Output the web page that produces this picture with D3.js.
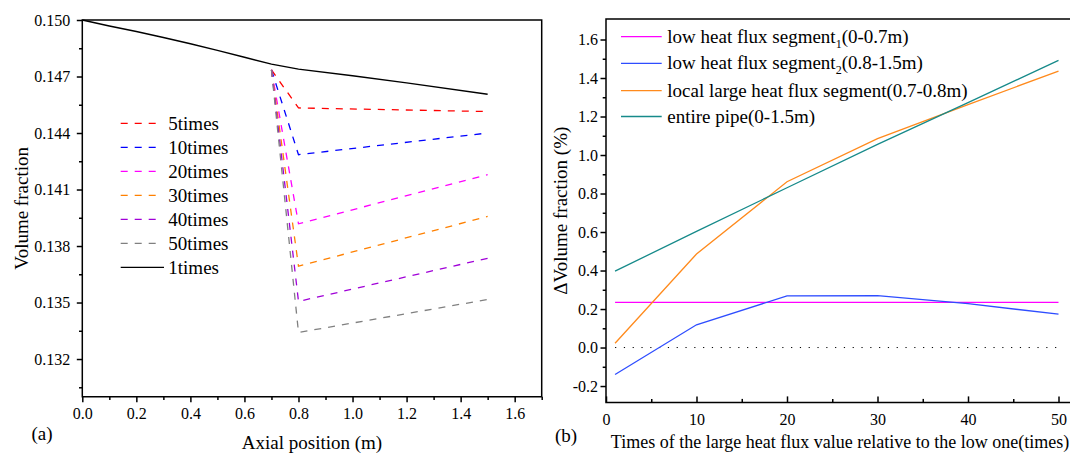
<!DOCTYPE html>
<html><head><meta charset="utf-8">
<script src="https://cdn.jsdelivr.net/npm/d3@7"></script>
<style>
html,body{margin:0;padding:0;background:#fff;}
svg{display:block;}
</style></head><body>
<svg id="fig" width="1070" height="454"></svg>
<script>
// ---------- panel (a): volume fraction along the pipe ----------
const basePos  = [0, 0.1, 0.2, 0.3, 0.4, 0.5, 0.6, 0.7, 0.8, 1.0, 1.2, 1.5];
const baseVals = [0.15000, 0.14968, 0.14939, 0.14907, 0.14874, 0.14839, 0.14802, 0.14766, 0.14739, 0.14704, 0.14666, 0.14606];
const dropPos  = [0.7, 0.8, 1.5];
const vf5  = [0.14735, 0.14533, 0.14514];
const vf10 = [0.14735, 0.14285, 0.14400];
const vf20 = [0.14735, 0.13918, 0.14179];
const vf30 = [0.14735, 0.13693, 0.13957];
const vf40 = [0.14735, 0.13506, 0.13735];
const vf50 = [0.14735, 0.13341, 0.13516];
const dropNames = ["5times", "10times", "20times", "30times", "40times", "50times"];
const baseName = "1times";
const xTicksA = [0, 0.2, 0.4, 0.6, 0.8, 1.0, 1.2, 1.4, 1.6];
const yTicksA = [0.132, 0.135, 0.138, 0.141, 0.144, 0.147, 0.150];

// ---------- panel (b): change of volume fraction vs. heat flux ratio ----------
const times  = [1, 10, 20, 30, 40, 50];
const dSeg1  = [0.235, 0.235, 0.235, 0.235, 0.235, 0.235];
const dSeg2  = [-0.140, 0.118, 0.268, 0.270, 0.228, 0.173];
const dLocal = [0.022, 0.486, 0.861, 1.085, 1.262, 1.436];
const dPipe  = [0.397, 0.603, 0.830, 1.055, 1.272, 1.492];
const xTicksB = [0, 10, 20, 30, 40, 50];
const yTicksB = [-0.2, 0, 0.2, 0.4, 0.6, 0.8, 1.0, 1.2, 1.4, 1.6];

const FONT = "'Liberation Serif','Times New Roman',serif";
const svg = d3.select("#fig").style("font-family", FONT);

function styleAxis(g, size) {
  g.attr("font-family", FONT).attr("font-size", size);
  g.select(".domain").remove();
  g.selectAll(".tick line").attr("stroke", "#000").attr("stroke-width", 1.5);
  g.selectAll(".tick text").attr("fill", "#000");
}

// ===== panel (a) =====
const A = {l: 82.3, r: 541.7, t: 20, b: 396.7};
const xA = d3.scaleLinear().domain([0, 1.7]).range([A.l, A.r]);
const yA = d3.scaleLinear().domain([0.130, 0.150]).range([A.b, A.t]);
const gA = svg.append("g");

gA.append("g").attr("transform", `translate(0,${A.b})`)
  .call(d3.axisBottom(xA).tickValues(xTicksA).tickFormat(d3.format(".1f")).tickSize(5.5).tickPadding(5.5))
  .call(g => styleAxis(g, 16));
gA.append("g").attr("transform", `translate(0,${A.b})`)
  .call(d3.axisBottom(xA).tickValues(d3.range(1, 18, 2).map(d => d / 10)).tickFormat("").tickSize(3.3))
  .call(g => styleAxis(g, 16));
gA.append("g").attr("transform", `translate(${A.l},0)`)
  .call(d3.axisLeft(yA).tickValues(yTicksA).tickFormat(d3.format(".3f")).tickSize(5.5).tickPadding(6.5))
  .call(g => styleAxis(g, 16));
gA.append("g").attr("transform", `translate(${A.l},0)`)
  .call(d3.axisLeft(yA).tickValues(d3.range(0, 7).map(i => 0.1305 + 0.003 * i)).tickFormat("").tickSize(3.3))
  .call(g => styleAxis(g, 16));

// frame
gA.append("path")
  .attr("d", `M${A.l},${A.t}V${A.b}H${A.r}V${A.t}Z`)
  .attr("fill", "none").attr("stroke", "#000").attr("stroke-width", 1.5);

const lineA = d3.line().x(d => xA(d[0])).y(d => yA(d[1]));
const dropSeries = [vf5, vf10, vf20, vf30, vf40, vf50];
const dropColors = ["#ff0000", "#0000ff", "#ff00ff", "#ff8000", "#a000d8", "#808080"];
dropSeries.forEach((vals, i) => {
  gA.append("path")
    .attr("d", lineA(d3.zip(dropPos, vals)))
    .attr("fill", "none").attr("stroke", dropColors[i]).attr("stroke-width", 1.3)
    .attr("stroke-dasharray", "7,7");
});
gA.append("path")
  .attr("d", lineA(d3.zip(basePos, baseVals)))
  .attr("fill", "none").attr("stroke", "#000").attr("stroke-width", 1.4);

// legend (a)
const legA = gA.append("g");
dropNames.concat([baseName]).forEach((name, i) => {
  const cy = 123.3 + 24 * i;
  const solid = i === dropNames.length;
  legA.append("line")
    .attr("x1", 120.7).attr("x2", solid ? 164 : 156)
    .attr("y1", cy).attr("y2", cy)
    .attr("stroke", solid ? "#000" : dropColors[i]).attr("stroke-width", 1.3)
    .attr("stroke-dasharray", solid ? null : "7,7");
  legA.append("text").attr("x", 168.3).attr("y", cy + 6.5)
    .attr("font-size", 19).text(name);
});

gA.append("text").attr("transform", `translate(21,${(A.t + A.b) / 2}) rotate(-90)`)
  .attr("text-anchor", "middle").attr("dominant-baseline", "central")
  .attr("font-size", 19).text("Volume fraction");
gA.append("text").attr("x", (A.l + A.r) / 2).attr("y", 449)
  .attr("text-anchor", "middle").attr("font-size", 19).text("Axial position (m)");
gA.append("text").attr("x", 31.5).attr("y", 440)
  .attr("font-size", 19).text("(a)");

// ===== panel (b) =====
const B = {l: 606, r: 1070, t: 19, b: 402.4};
const xB = d3.scaleLinear().domain([0, 51.27]).range([B.l, B.r]);
const yB = d3.scaleLinear().domain([-0.285, 1.7065]).range([B.b, B.t]);
const gB = svg.append("g");
const fmtB = d => d3.format(".1f")(d).replace("\u2212", "-");

gB.append("g").attr("transform", `translate(0,${B.b})`)
  .call(d3.axisBottom(xB).tickValues(xTicksB).tickFormat(d3.format("d")).tickSize(-6).tickPadding(11))
  .call(g => styleAxis(g, 16));
gB.append("g").attr("transform", `translate(0,${B.b})`)
  .call(d3.axisBottom(xB).tickValues([5, 15, 25, 35, 45]).tickFormat("").tickSize(-3.5))
  .call(g => styleAxis(g, 16));
gB.append("g").attr("transform", `translate(${B.l},0)`)
  .call(d3.axisLeft(yB).tickValues(yTicksB).tickFormat(fmtB).tickSize(5.5).tickPadding(2.5))
  .call(g => styleAxis(g, 16));
gB.append("g").attr("transform", `translate(${B.l},0)`)
  .call(d3.axisLeft(yB).tickValues(d3.range(-1, 17, 2).map(d => d / 10)).tickFormat("").tickSize(3.3))
  .call(g => styleAxis(g, 16));

gB.append("path")
  .attr("d", `M${B.r},${B.t}H${B.l}V${B.b}H${B.r}`)
  .attr("fill", "none").attr("stroke", "#000").attr("stroke-width", 1.5);

// zero reference
gB.append("line")
  .attr("x1", xB(times[0])).attr("x2", xB(times[times.length - 1]))
  .attr("y1", yB(0)).attr("y2", yB(0))
  .attr("stroke", "#000").attr("stroke-width", 1).attr("stroke-dasharray", "1.2,7.6");

const lineB = d3.line().x(d => xB(d[0])).y(d => yB(d[1]));
const bSeries = [
  {vals: dSeg1, color: "#ff00ff", label: ["low heat flux segment", "1", "(0-0.7m)"]},
  {vals: dSeg2, color: "#2e4dff", label: ["low heat flux segment", "2", "(0.8-1.5m)"]},
  {vals: dLocal, color: "#ff8a1c", label: ["local large heat flux segment(0.7-0.8m)"]},
  {vals: dPipe, color: "#168a8a", label: ["entire pipe(0-1.5m)"]}
];
bSeries.forEach(s => {
  gB.append("path")
    .attr("d", lineB(d3.zip(times, s.vals)))
    .attr("fill", "none").attr("stroke", s.color).attr("stroke-width", 1.3);
});

// legend (b)
const legBy = [36.7, 63.3, 90.7, 116.5];
bSeries.forEach((s, i) => {
  const cy = legBy[i];
  gB.append("line").attr("x1", 621).attr("x2", 661.7).attr("y1", cy).attr("y2", cy)
    .attr("stroke", s.color).attr("stroke-width", 1.3);
  const t = gB.append("text").attr("x", 667.3).attr("y", cy + 6).attr("font-size", 19);
  t.append("tspan").text(s.label[0]);
  if (s.label.length > 1) {
    t.append("tspan").attr("font-size", 12).attr("dy", 5).text(s.label[1]);
    t.append("tspan").attr("dy", -5).text(s.label[2]);
  }
});

gB.append("text").attr("transform", `translate(560,${(B.t + B.b) / 2}) rotate(-90)`)
  .attr("text-anchor", "middle").attr("dominant-baseline", "central")
  .attr("font-size", 19).text("\u0394Volume fraction (%)");
gB.append("text").attr("x", 840).attr("y", 448)
  .attr("text-anchor", "middle").attr("font-size", 18)
  .text("Times of the large heat flux value relative to the low one(times)");
gB.append("text").attr("x", 555).attr("y", 442)
  .attr("font-size", 19).text("(b)");
</script>
</body></html>
